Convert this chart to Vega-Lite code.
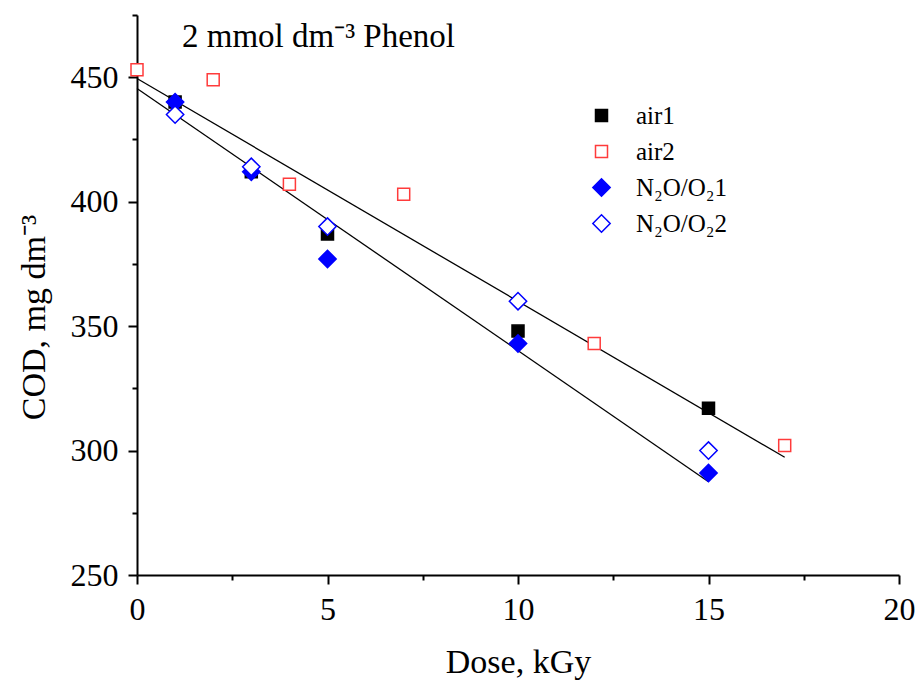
{
  "$schema": "https://vega.github.io/schema/vega-lite/v6.json",
  "autosize": "none",
  "width": 762,
  "height": 560,
  "padding": {"left": 137, "top": 15, "right": 18, "bottom": 106},
  "background": "white",
  "config": {
    "view": {"stroke": null},
    "font": "Liberation Serif",
    "axis": {
      "domainColor": "black", "domainWidth": 2, "tickColor": "black", "tickWidth": 2,
      "labelFont": "Liberation Serif", "labelFontSize": 32, "labelColor": "black",
      "titleFont": "Liberation Serif", "titleFontSize": 34, "titleFontWeight": "normal", "titleColor": "black",
      "grid": false
    },
    "legend": {
      "orient": "none", "legendX": 452, "legendY": 88, "padding": 0, "labelOffset": 22,
      "labelFontSize": 25, "labelFont": "Liberation Serif", "labelColor": "black",
      "rowPadding": 10, "symbolStrokeWidth": 1.5
    }
  },
  "datasets": {
    "pts": [
      {"dose": 1, "cod": 440, "series": "air1"},
      {"dose": 3, "cod": 412, "series": "air1"},
      {"dose": 5, "cod": 387, "series": "air1"},
      {"dose": 10, "cod": 348, "series": "air1"},
      {"dose": 15, "cod": 317, "series": "air1"},
      {"dose": 0, "cod": 453, "series": "air2"},
      {"dose": 2, "cod": 449, "series": "air2"},
      {"dose": 4, "cod": 407, "series": "air2"},
      {"dose": 7, "cod": 403, "series": "air2"},
      {"dose": 12, "cod": 343, "series": "air2"},
      {"dose": 17, "cod": 302, "series": "air2"},
      {"dose": 1, "cod": 440, "series": "N₂O/O₂1"},
      {"dose": 3, "cod": 412, "series": "N₂O/O₂1"},
      {"dose": 5, "cod": 377, "series": "N₂O/O₂1"},
      {"dose": 10, "cod": 343, "series": "N₂O/O₂1"},
      {"dose": 15, "cod": 291, "series": "N₂O/O₂1"},
      {"dose": 1, "cod": 435, "series": "N₂O/O₂2"},
      {"dose": 3, "cod": 414, "series": "N₂O/O₂2"},
      {"dose": 5, "cod": 390, "series": "N₂O/O₂2"},
      {"dose": 10, "cod": 360, "series": "N₂O/O₂2"},
      {"dose": 15, "cod": 300, "series": "N₂O/O₂2"}
    ],
    "fits": [
      {"dose": 0, "cod": 449.5, "fit": "a"},
      {"dose": 17, "cod": 297.3, "fit": "a"},
      {"dose": 0, "cod": 445.5, "fit": "b"},
      {"dose": 15, "cod": 287.5, "fit": "b"}
    ],
    "notes": [
      {"dose": 1.18, "cod": 462, "label": "2 mmol dm⁻³ Phenol"}
    ]
  },
  "layer": [
    {
      "data": {"name": "fits"},
      "mark": {"type": "line", "color": "black", "strokeWidth": 1.3},
      "encoding": {
        "x": {
          "field": "dose", "type": "quantitative",
          "scale": {"domain": [0, 20], "nice": false, "zero": false},
          "axis": {
            "title": "Dose, kGy",
            "values": [0, 2.5, 5, 7.5, 10, 12.5, 15, 17.5, 20],
            "labelExpr": "datum.value % 5 === 0 ? datum.label : ''",
            "tickSize": {"condition": {"test": "datum.value % 5 === 0", "value": 9}, "value": 5},
            "labelPadding": 10,
            "titlePadding": 20,
            "labelFlush": false,
            "labelOverlap": false
          }
        },
        "y": {
          "field": "cod", "type": "quantitative",
          "scale": {"domain": [250, 475], "nice": false, "zero": false},
          "axis": {
            "title": "COD, mg dm⁻³",
            "values": [250, 275, 300, 325, 350, 375, 400, 425, 450, 475],
            "labelExpr": "datum.value % 50 === 0 ? datum.label : ''",
            "tickSize": {"condition": {"test": "datum.value % 50 === 0", "value": 9}, "value": 5},
            "labelPadding": 10,
            "titleX": -86,
            "titleY": 302,
            "titleAngle": -90,
            "titleAlign": "center",
            "titleBaseline": "bottom",
            "labelFlush": false,
            "labelOverlap": false
          }
        },
        "detail": {"field": "fit"}
      }
    },
    {
      "data": {"name": "pts"},
      "mark": {"type": "point", "strokeWidth": 1.5, "opacity": 1},
      "encoding": {
        "x": {"field": "dose", "type": "quantitative"},
        "y": {"field": "cod", "type": "quantitative"},
        "shape": {
          "field": "series", "type": "nominal",
          "scale": {"domain": ["air1", "air2", "N₂O/O₂1", "N₂O/O₂2"], "range": ["square", "square", "diamond", "diamond"]},
          "legend": {"title": null}
        },
        "stroke": {
          "field": "series", "type": "nominal",
          "scale": {"domain": ["air1", "air2", "N₂O/O₂1", "N₂O/O₂2"], "range": ["black", "#ff3b3b", "#0000ff", "#0000ff"]},
          "legend": {"title": null}
        },
        "fill": {
          "field": "series", "type": "nominal",
          "scale": {"domain": ["air1", "air2", "N₂O/O₂1", "N₂O/O₂2"], "range": ["black", "white", "#0000ff", "white"]},
          "legend": {"title": null}
        },
        "size": {
          "field": "series", "type": "nominal",
          "scale": {"type": "ordinal", "domain": ["air1", "air2", "N₂O/O₂1", "N₂O/O₂2"], "range": [144, 144, 300, 300]},
          "legend": {"title": null}
        }
      }
    },
    {
      "data": {"name": "notes"},
      "mark": {"type": "text", "align": "left", "baseline": "alphabetic", "font": "Liberation Serif", "fontSize": 33, "color": "black"},
      "encoding": {
        "x": {"field": "dose", "type": "quantitative"},
        "y": {"field": "cod", "type": "quantitative"},
        "text": {"field": "label"}
      }
    }
  ]
}
